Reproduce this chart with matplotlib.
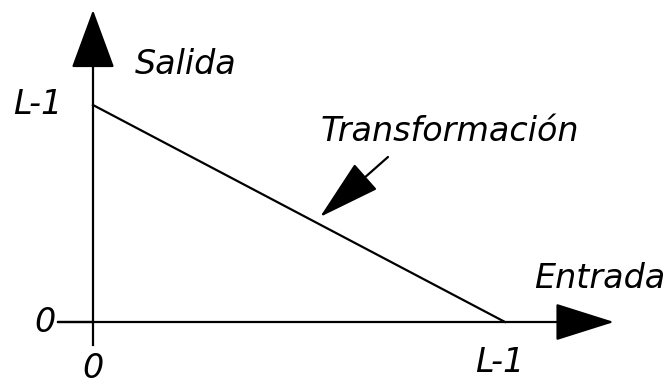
import matplotlib.pyplot as plt

# transformacion negativa: s = (L-1) - r
entrada = [0, 1]
salida = [1, 0]
tick_labels = ["0", "L-1"]
titulo_x = "Entrada"
titulo_y = "Salida"
nombre = "Transformación"

fig = plt.figure(figsize=(6.68, 3.87), dpi=100)
ax = fig.add_axes([0, 0, 1, 1])
# 1 unidad x = 412 px, 1 unidad y = 217 px
ax.set_xlim(-93 / 412, (668 - 93) / 412)
ax.set_ylim((322 - 387) / 217, 322 / 217)
ax.axis("off")

font = dict(family="DejaVu Sans", style="italic", fontsize=24, color="black")
sx = 1 / 412
sy = 1 / 217

# ejes con flechas
ax.plot([-35 * sx, 0.0], [0, 0], color="black", lw=1.6)
ax.plot([0, 0], [-23 * sy, 0.0], color="black", lw=1.6)
ax.annotate("", xy=(521 * sx, 0), xytext=(-35 * sx, 0),
            arrowprops=dict(arrowstyle="-|>,head_length=1.9,head_width=0.6",
                            mutation_scale=20, color="black", lw=1.6,
                            shrinkA=0, shrinkB=0))
ax.annotate("", xy=(0, 312 * sy), xytext=(0, 0),
            arrowprops=dict(arrowstyle="-|>,head_length=1.9,head_width=0.7",
                            mutation_scale=20, color="black", lw=1.6,
                            shrinkA=0, shrinkB=0))

# la transformacion
ax.plot(entrada, salida, color="black", lw=1.6)

# flecha indicadora
ax.annotate("", xy=(0.551, 0.484), xytext=(0.551 + 68 * sx, 0.484 + 60 * sy),
            arrowprops=dict(arrowstyle="-|>,head_length=2.0,head_width=0.55",
                            mutation_scale=20, color="black", lw=1.6,
                            shrinkA=0, shrinkB=0))

# etiquetas
ax.text(-31 * sx, salida[0], tick_labels[1], ha="right", va="center", **font)
ax.text(-48 * sx, 0, tick_labels[0], ha="center", va="center", **font)
ax.text(entrada[0], -47 * sy, tick_labels[0], ha="center", va="center", **font)
ax.text(entrada[1] - 5 * sx, -40 * sy, tick_labels[1], ha="center", va="center", **font)
ax.text(42 * sx, 258 * sy, titulo_y, ha="left", va="center", **font)
ax.text(572 * sx, 44 * sy, titulo_x, ha="right", va="center", **font)
ax.text(357 * sx, 190 * sy, nombre, ha="center", va="center", **font)

fig.savefig("out.png", dpi=100)
